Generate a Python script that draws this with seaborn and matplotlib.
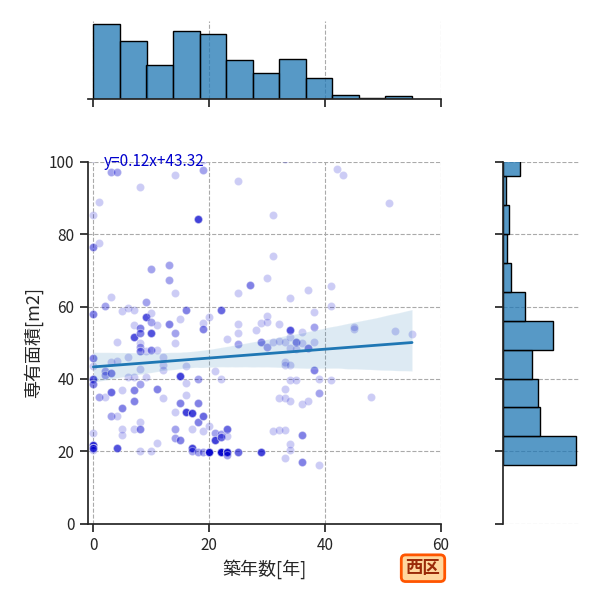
import numpy as np
import pandas as pd
import matplotlib
matplotlib.use("Agg")
import matplotlib.pyplot as plt
import seaborn as sns

# ---- data (築年数, 専有面積, number of identical listings) ----
pts_x = [0]*11 + [1]*3 + [2]*4 + [3]*6 + [4]*5 + [5]*5 + [6]*3 + [7]*7 + [8]*11 + [9]*4 \
    + [10]*6 + [11]*4 + [12]*4 + [13]*3 + [14]*7 + [15]*4 + [16]*5 + [17]*4 + [18]*5 + [19]*6 \
    + [20]*3 + [21]*3 + [22]*5 + [23]*5 + [25]*6 + [27]*1 + [28]*1 + [29]*3 + [30]*4 + [31]*4 \
    + [32]*4 + [33]*7 + [34]*9 + [35]*3 + [36]*5 + [37]*3 + [38]*4 + [39]*3 + [41]*3 + [42]*1 \
    + [43]*1 + [45]*2 + [48]*1 + [51]*1 + [52]*1 + [55]*1
pts_y = [85.3, 76.4, 58.0, 45.7, 43.6, 40.0, 38.6, 24.9, 21.7, 20.8, 20.3,
         88.8, 77.5, 35.1,
         60.2, 42.3, 41.1, 35.1,
         97.3, 62.7, 44.8, 41.5, 36.5, 29.7,
         97.1, 50.2, 45.0, 29.7, 20.8,
         58.7, 36.9, 31.9, 26.2, 24.5,
         59.5, 46.0, 40.6,
         59.1, 54.9, 51.5, 40.6, 36.9, 34.0, 26.2,
         93.1, 54.0, 52.6, 49.8, 48.9, 47.8, 42.7, 38.7, 28.2, 26.2, 20.0,
         61.2, 57.2, 47.7, 40.5,
         70.3, 58.3, 55.8, 52.6, 48.0, 20.0,
         54.8, 48.0, 37.3, 22.3,
         46.0, 43.8, 42.6, 34.6,
         71.4, 67.4, 55.1,
         96.3, 63.7, 52.7, 49.8, 30.9, 26.1, 23.6,
         56.5, 40.7, 33.4, 23.1,
         59.1, 43.7, 38.8, 35.6, 30.9,
         30.5, 26.1, 21.0, 20.0,
         84.2, 39.9, 33.4, 28.0, 19.8,
         97.8, 55.5, 53.8, 29.6, 25.6, 19.8,
         57.2, 27.0, 19.9,
         42.2, 25.0, 23.1,
         59.1, 39.9, 24.8, 23.8, 19.7,
         51.0, 26.1, 24.2, 19.7, 18.9,
         94.7, 63.7, 55.3, 52.6, 49.7, 19.7,
         66.0,
         53.5,
         55.5, 50.2, 19.7,
         67.9, 57.4, 55.8, 48.7,
         85.3, 73.9, 50.1, 25.7,
         55.2, 50.5, 34.6, 25.9,
         50.1, 44.7, 43.9, 37.1, 34.6, 25.9, 18.0,
         62.3, 53.4, 51.5, 48.5, 43.9, 39.7, 33.9, 22.0, 20.2,
         50.1, 48.3, 39.7,
         52.9, 49.9, 33.1, 24.5, 17.1,
         64.6, 48.6, 33.9,
         58.4, 54.4, 50.2, 42.5,
         39.9, 36.0, 16.2,
         65.6, 60.2, 39.7,
         98.1,
         96.3,
         53.8, 54.4,
         34.9,
         88.6,
         53.2,
         52.4]
pts_n = [1, 3, 3, 3, 1, 5, 3, 1, 8, 7, 1,
         1, 1, 2,
         2, 2, 2, 1,
         2, 1, 1, 3, 4, 2,
         2, 1, 1, 1, 5,
         1, 1, 3, 1, 1,
         1, 1, 1,
         1, 1, 5, 1, 3, 3, 1,
         1, 3, 3, 1, 2, 3, 1, 2, 1, 3, 1,
         2, 5, 1, 1,
         2, 1, 2, 5, 3, 1,
         1, 1, 3, 1,
         1, 1, 1, 1,
         2, 2, 3,
         1, 1, 2, 1, 1, 2, 2,
         1, 6, 3, 3,
         3, 1, 1, 1, 6,
         6, 1, 6, 2,
         6, 2, 3, 3, 2,
         2, 1, 3, 4, 1, 2,
         1, 1, 13,
         1, 2, 6,
         4, 1, 2, 4, 13,
         1, 4, 1, 12, 2,
         1, 1, 1, 1, 2, 4,
         3,
         1,
         1, 3, 6,
         1, 1, 1, 2,
         1, 1, 1, 1,
         1, 1, 1, 1,
         1, 1, 1, 1, 1, 1, 1,
         1, 5, 1, 1, 1, 1, 1, 1, 1,
         3, 1, 1,
         1, 1, 1, 3, 3,
         1, 3, 1,
         1, 2, 1, 3,
         1, 2, 1,
         1, 1, 1,
         1,
         1,
         1, 1,
         1,
         1,
         1,
         1]
# listings larger than the visible range (above 100 m2)
hidden_x = [0, 0, 1, 4, 6, 8, 10, 11, 12, 16, 19, 20, 21,
            23, 24, 25, 26, 27, 25, 29, 31, 33, 34, 35, 36, 34, 36, 38, 40]
hidden_y = [101, 103, 102, 140, 102, 115, 101, 104, 123, 103, 100.5, 102, 130,
            101.5, 103, 107, 113, 119, 128, 102.5, 109, 100.8, 103.5, 106, 112, 117, 124,
            101.2, 114]

x_label = "築年数[年]"
y_label = "専有面積[m2]"
ward = "西区"
x_ticks = [0, 20, 40, 60]
y_ticks = [0, 20, 40, 60, 80, 100]

# ---- build table ----
x_all = np.concatenate([np.repeat(pts_x, pts_n), hidden_x]).astype(float)
y_all = np.concatenate([np.repeat(pts_y, pts_n), hidden_y]).astype(float)
df = pd.DataFrame({"age": x_all, "area": y_all})
slope, intercept = np.polyfit(df["age"], df["area"], 1)

sns.set_theme(style="ticks")
plt.rcParams["font.family"] = ["Noto Sans CJK JP", "DejaVu Sans"]
plt.rcParams["axes.unicode_minus"] = False

BLUE = "#1f77b4"
fig = plt.figure(figsize=(6, 6), dpi=100)
ax = fig.add_axes([0.146, 0.1275, 0.589, 0.6025])
ax_top = fig.add_axes([0.146, 0.835, 0.589, 0.1307], sharex=ax)
ax_right = fig.add_axes([0.839, 0.1275, 0.127, 0.6025], sharey=ax)

grid_kw = dict(color="#aaaaaa", linestyle="--", linewidth=0.8)
for a in (ax, ax_top, ax_right):
    a.set_axisbelow(True)

sns.scatterplot(data=df, x="age", y="area", ax=ax, color="mediumblue", alpha=0.2,
                s=34, edgecolor="white", linewidth=0.8, legend=False)
sns.regplot(data=df, x="age", y="area", ax=ax, scatter=False, ci=95, seed=0,
            color=BLUE, line_kws={"linewidth": 2})
ax.text(1.8, 100, f"y={slope:.2f}x+{intercept:.2f}", color="mediumblue",
        fontsize=11, ha="left", va="center")

ax.set_xlim(-1, 60)
ax.set_ylim(0, 100)
ax.set_xticks(x_ticks)
ax.set_yticks(y_ticks)
ax.grid(True, **grid_kw)
ax.set_xlabel(x_label, fontsize=13)
ax.set_ylabel(y_label, fontsize=13)
ax.tick_params(labelsize=11)
sns.despine(ax=ax)

x_bins = np.linspace(0, 55, 13)
y_bins = np.arange(16.1, 150, 8)
sns.histplot(x=x_all, bins=x_bins, ax=ax_top, color=BLUE, alpha=0.75,
             edgecolor="black", linewidth=1)
sns.histplot(y=y_all, bins=y_bins, ax=ax_right, color=BLUE, alpha=0.75,
             edgecolor="black", linewidth=1)

ax_top.grid(True, axis="x", **grid_kw)
ax_top.set_xlabel("")
ax_top.set_ylabel("")
ax_top.tick_params(labelbottom=False, left=False, labelleft=False)
sns.despine(ax=ax_top, left=True)

ax_right.grid(True, axis="y", **grid_kw)
ax_right.set_xlabel("")
ax_right.set_ylabel("")
ax_right.tick_params(labelleft=False, bottom=False, labelbottom=False)
sns.despine(ax=ax_right, bottom=True)
ax.set_ylim(0, 100)

fig.text(0.705, 0.053, ward, fontsize=12.5, fontweight="bold", color="#9a2a08",
         ha="center", va="center",
         bbox=dict(boxstyle="round,pad=0.25", fc="#ffd79e", ec="#ff5500", lw=2))

fig.savefig("out.png", dpi=100)
